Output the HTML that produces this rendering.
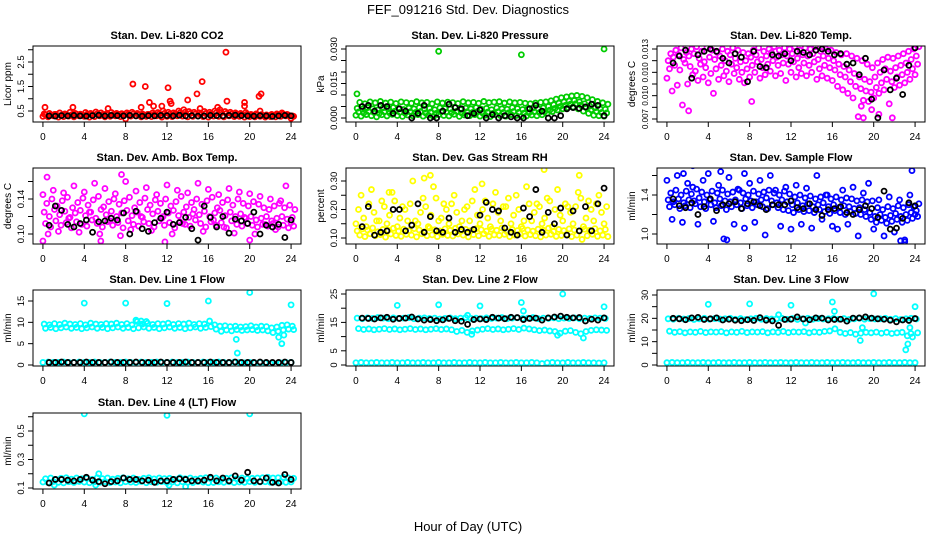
<!DOCTYPE html>
<html><head><meta charset="utf-8"><style>
body{margin:0;background:#fff}
svg{display:block;font-family:"Liberation Sans",Arial,sans-serif}
</style></head><body>
<svg id="chart" width="936" height="540" viewBox="0 0 936 540" xmlns="http://www.w3.org/2000/svg">
<rect x="0" y="0" width="936" height="540" fill="#fff"/>
<text x="468" y="14" text-anchor="middle" font-size="13">FEF_091216  Std. Dev. Diagnostics</text>
<text x="468" y="531" text-anchor="middle" font-size="13">Hour of Day (UTC)</text>
</svg>
<script>
const xTicks=[0,4,8,12,16,20,24];
// CO2
const co2A=[0.28,0.26,0.3,0.25,0.27,0.29,0.26,0.3,0.28,0.25,0.27,0.3,0.26,0.28,0.3,0.27,0.18,0.29,0.3,0.26,0.28,0.27,0.3,0.25,0.28,0.27,0.3,0.29,0.26,0.28,0.3,0.27,0.25,0.29,0.28,0.26,0.3,0.27,0.28,0.25,0.27,0.26,0.28,0.25,0.27,0.26,0.28,0.3,0.2];
const co2B=[0.38,0.4,0.36,0.42,0.38,0.45,0.4,0.37,0.44,0.4,0.46,0.42,0.38,0.44,0.4,0.39,0.42,0.45,0.4,0.38,0.36,0.42,0.44,0.5,0.45,0.42,0.5,0.55,0.48,0.45,0.42,0.48,0.45,0.5,0.55,0.48,0.45,0.42,0.4,0.44,0.36,0.38,0.35,0.34,0.36,0.38,0.42,0.36,0.3];
const co2C=[0.34,0.33,0.36,0.32,0.35,0.34,0.37,0.33,0.36,0.35,0.38,0.34,0.36,0.35,0.37,0.33,0.36,0.38,0.35,0.34,0.36,0.35,0.38,0.4,0.37,0.36,0.42,0.45,0.4,0.38,0.36,0.4,0.38,0.42,0.44,0.4,0.38,0.36,0.35,0.37,0.33,0.34,0.32,0.31,0.33,0.35,0.37,0.33,0.28];
const co2OutX=[8.7,9.9,12.1,15.4,14.9,14.0,17.7,17.8,19.5,19.5,20.9,21.1,10.3,12.4,12.3,0.2,2.9,6.3,16.9,9.5,10.7,11.5,15.2,21.0];
const co2OutY=[1.6,1.5,1.45,1.7,1.2,0.95,2.9,0.9,0.85,0.7,1.1,1.2,0.85,0.8,0.9,0.65,0.65,0.6,0.65,0.65,0.7,0.7,0.6,0.5];
const co2Blk=[0.3,0.29,0.31,0.3,0.32,0.3,0.29,0.31,0.33,0.3,0.32,0.31,0.3,0.32,0.3,0.29,0.31,0.3,0.32,0.31,0.3,0.33,0.3,0.31,0.29,0.3,0.32,0.31,0.3,0.32,0.33,0.31,0.3,0.29,0.31,0.3,0.28,0.3,0.32,0.3];
// Pressure
const prA=[0.0068,0.0062,0.007,0.0066,0.0072,0.0065,0.0069,0.0063,0.007,0.0067,0.0064,0.0071,0.0066,0.0068,0.0062,0.007,0.0065,0.0069,0.0067,0.0063,0.0071,0.0066,0.0068,0.0064,0.0072,0.0067,0.0069,0.0071,0.0065,0.007,0.0066,0.0068,0.0064,0.0062,0.0065,0.0068,0.007,0.0075,0.0082,0.0088,0.0092,0.0096,0.0098,0.0094,0.0088,0.008,0.0072,0.0066,0.006];
const prB=[0.0042,0.0038,0.0045,0.004,0.0035,0.0044,0.0039,0.0046,0.0041,0.0037,0.0043,0.004,0.0045,0.0038,0.0042,0.0036,0.0044,0.0041,0.0039,0.0046,0.0037,0.0043,0.004,0.0045,0.0038,0.0042,0.0036,0.0044,0.004,0.0038,0.0045,0.0041,0.0037,0.0039,0.0043,0.004,0.0044,0.005,0.0058,0.0065,0.007,0.0074,0.0076,0.007,0.0062,0.0052,0.0044,0.004,0.0038];
const prC=[0.0012,0.0008,0.0015,0.001,0.0005,0.0014,0.0009,0.0016,0.0011,0.0007,0.0013,0.001,0.0015,0.0008,0.0012,0.0006,0.0014,0.0011,0.0009,0.0016,0.0007,0.0013,0.001,0.0015,0.0008,0.0012,0.0006,0.0014,0.001,0.0008,0.0015,0.0011,0.0007,0.0009,0.0013,0.001,0.0014,0.002,0.0028,0.0035,0.004,0.0045,0.0048,0.004,0.003,0.002,0.0012,0.001,0.0008];
const prD=[0.0026,0.0022,0.0028,0.0024,0.002,0.0027,0.0023,0.0029,0.0025,0.0021,0.0027,0.0024,0.0028,0.0022,0.0026,0.002,0.0027,0.0025,0.0023,0.0029,0.0021,0.0027,0.0024,0.0028,0.0022,0.0026,0.002,0.0027,0.0024,0.0022,0.0028,0.0025,0.0021,0.0023,0.0027,0.0024,0.0027,0.0034,0.0042,0.005,0.0055,0.006,0.0062,0.0056,0.0046,0.0036,0.0028,0.0024,0.0022];
const prOutX=[0.1,8,16,24];
const prOutY=[0.0105,0.029,0.0275,0.030];
const prBlk=[0.005,0.0055,0.003,0.0055,0.005,0.002,0.004,0.003,0,0.002,0.0055,0,0,0.003,0.006,0.0045,0.004,0.001,0.002,0.0035,0,0.0015,0,0.001,0.0005,0,0,0.004,0.0055,0.003,0,0,0.001,0.004,0.0045,0.0042,0.0048,0.006,0.0055,0.001];
// Li-820 temp
const ltA=[0.0126,0.0129,0.0131,0.0127,0.013,0.0132,0.0128,0.0131,0.0129,0.0127,0.013,0.0128,0.0131,0.0129,0.0127,0.0126,0.0129,0.0131,0.0128,0.013,0.0132,0.0129,0.0131,0.013,0.0132,0.0129,0.0131,0.013,0.0132,0.0128,0.013,0.0129,0.0127,0.0125,0.0126,0.0124,0.0122,0.012,0.0117,0.0114,0.0118,0.0121,0.0123,0.0122,0.0124,0.0126,0.0128,0.013,0.0132];
const ltB=[0.012,0.0123,0.0125,0.0121,0.0124,0.0126,0.0122,0.0119,0.0123,0.0121,0.0124,0.012,0.0125,0.0122,0.0119,0.012,0.0123,0.0125,0.0121,0.0124,0.0127,0.0123,0.0125,0.0124,0.0126,0.0122,0.0125,0.0124,0.0126,0.0121,0.0124,0.0122,0.012,0.0117,0.0115,0.0112,0.0109,0.0106,0.0104,0.0102,0.0106,0.011,0.0113,0.0111,0.0114,0.0116,0.0118,0.0121,0.0124];
const ltC=[0.0113,0.0116,0.0112,0.0118,0.0115,0.0111,0.0117,0.0114,0.0109,0.0113,0.0116,0.0111,0.0117,0.0114,0.011,0.0113,0.0116,0.0119,0.0114,0.0117,0.012,0.0116,0.0118,0.0117,0.0119,0.0114,0.0118,0.0116,0.0119,0.0113,0.0116,0.0114,0.0112,0.0108,0.0106,0.0102,0.0098,0.0096,0.0094,0.0093,0.0097,0.0101,0.0104,0.0102,0.0106,0.0108,0.011,0.0113,0.0117];
const ltD=[0.0105,0.0094,0.0099,0.0082,0.01,0.0108,0.0103,0.0106,0.0101,0.0092,0.0104,0.0107,0.0102,0.0109,0.0104,0.0101,0.0106,0.011,0.0105,0.0108,0.0111,0.0107,0.0109,0.0103,0.011,0.0106,0.0109,0.0107,0.011,0.0104,0.0107,0.0105,0.0103,0.0098,0.0095,0.0092,0.0088,0.0072,0.0086,0.0085,0.0088,0.0092,0.0095,0.0083,0.0097,0.0099,0.0101,0.0104,0.0108];
const ltOutX=[2.1,19,21.8,20.5,19.8,18.8,8.2];
const ltOutY=[0.0077,0.0071,0.0071,0.0074,0.0078,0.0081,0.0085];
const ltBlk=[0.0118,0.0124,0.0129,0.0105,0.0125,0.0128,0.013,0.0128,0.0122,0.0118,0.0126,0.0123,0.0102,0.0128,0.0115,0.0114,0.0125,0.0124,0.0126,0.012,0.0128,0.0127,0.0125,0.0129,0.013,0.0128,0.0125,0.0126,0.0117,0.0118,0.0108,0.0122,0.0087,0.0071,0.0112,0.0095,0.0105,0.0091,0.0116,0.0131];
// Amb box temp
const abA=[0.135,0.14,0.132,0.138,0.142,0.13,0.136,0.141,0.133,0.139,0.143,0.131,0.137,0.14,0.134,0.138,0.142,0.13,0.136,0.141,0.133,0.139,0.135,0.14,0.132,0.137,0.143,0.131,0.136,0.14,0.134,0.138,0.142,0.13,0.136,0.139,0.133,0.14,0.135,0.132,0.137,0.134,0.13,0.128,0.132,0.135,0.13,0.133,0.128];
const abB=[0.125,0.12,0.128,0.122,0.126,0.119,0.124,0.127,0.121,0.125,0.118,0.128,0.122,0.126,0.12,0.124,0.127,0.121,0.125,0.119,0.128,0.123,0.126,0.12,0.124,0.127,0.121,0.125,0.119,0.128,0.122,0.126,0.12,0.124,0.127,0.121,0.125,0.12,0.123,0.118,0.12,0.116,0.118,0.12,0.115,0.118,0.12,0.117,0.119];
const abC=[0.112,0.108,0.115,0.11,0.113,0.107,0.114,0.111,0.109,0.116,0.112,0.108,0.114,0.11,0.113,0.107,0.115,0.111,0.109,0.114,0.112,0.108,0.115,0.11,0.113,0.107,0.114,0.111,0.109,0.116,0.112,0.108,0.114,0.11,0.113,0.107,0.115,0.111,0.109,0.112,0.11,0.108,0.111,0.109,0.112,0.108,0.11,0.107,0.109];
const abD=[0.145,0.1,0.15,0.103,0.147,0.118,0.155,0.102,0.148,0.125,0.158,0.1,0.152,0.115,0.146,0.098,0.16,0.105,0.149,0.12,0.153,0.104,0.145,0.118,0.156,0.1,0.15,0.112,0.147,0.123,0.158,0.103,0.151,0.116,0.145,0.108,0.152,0.101,0.148,0.119,0.146,0.1,0.143,0.111,0.14,0.105,0.138,0.155,0.113];
const abOutX=[0.4,7.6,0,11.8,20,5.6];
const abOutY=[0.165,0.168,0.092,0.091,0.093,0.092];
const abBlk=[0.11,0.132,0.127,0.111,0.108,0.112,0.116,0.102,0.114,0.115,0.118,0.116,0.124,0.1,0.126,0.106,0.103,0.113,0.118,0.125,0.111,0.113,0.119,0.106,0.093,0.132,0.119,0.108,0.12,0.101,0.117,0.115,0.112,0.125,0.1,0.11,0.108,0.111,0.096,0.116];
// RH
const rhA=[0.11,0.105,0.115,0.108,0.112,0.103,0.114,0.109,0.106,0.113,0.11,0.104,0.115,0.108,0.111,0.105,0.113,0.109,0.107,0.114,0.11,0.104,0.112,0.108,0.115,0.106,0.111,0.109,0.113,0.105,0.11,0.114,0.107,0.112,0.108,0.104,0.11,0.113,0.106,0.109,0.112,0.105,0.11,0.095,0.108,0.113,0.106,0.11,0.105];
const rhB=[0.125,0.132,0.128,0.135,0.122,0.13,0.127,0.134,0.124,0.131,0.126,0.133,0.128,0.122,0.135,0.129,0.125,0.132,0.127,0.134,0.123,0.13,0.126,0.133,0.129,0.124,0.131,0.127,0.135,0.122,0.13,0.126,0.133,0.128,0.124,0.131,0.127,0.134,0.123,0.13,0.126,0.132,0.128,0.124,0.131,0.127,0.133,0.125,0.13];
const rhC=[0.2,0.17,0.22,0.19,0.16,0.21,0.18,0.23,0.17,0.2,0.22,0.16,0.19,0.21,0.18,0.24,0.17,0.2,0.22,0.19,0.16,0.21,0.23,0.18,0.2,0.17,0.22,0.19,0.21,0.24,0.18,0.2,0.16,0.22,0.19,0.21,0.17,0.23,0.2,0.18,0.22,0.19,0.21,0.24,0.17,0.2,0.22,0.19,0.21];
const rhD=[0.15,0.25,0.14,0.27,0.16,0.23,0.15,0.26,0.14,0.21,0.16,0.3,0.15,0.24,0.14,0.28,0.16,0.22,0.15,0.25,0.14,0.2,0.16,0.27,0.15,0.23,0.14,0.26,0.16,0.21,0.15,0.25,0.14,0.28,0.16,0.22,0.15,0.24,0.14,0.27,0.16,0.21,0.15,0.26,0.14,0.23,0.16,0.25,0.15];
const rhOutX=[6.6,7.2,18.2,21.6,12.2,3.2];
const rhOutY=[0.31,0.32,0.34,0.32,0.29,0.26];
const rhBlk=[0.14,0.21,0.11,0.12,0.125,0.2,0.2,0.125,0.145,0.22,0.12,0.175,0.125,0.12,0.17,0.12,0.13,0.12,0.13,0.18,0.225,0.2,0.195,0.135,0.12,0.11,0.205,0.175,0.27,0.12,0.19,0.15,0.205,0.11,0.195,0.125,0.21,0.125,0.22,0.275];
// Sample flow
const sfA=[1.42,1.45,1.4,1.44,1.41,1.46,1.43,1.4,1.44,1.42,1.45,1.41,1.43,1.46,1.42,1.4,1.44,1.41,1.43,1.45,1.42,1.4,1.44,1.41,1.38,1.4,1.37,1.39,1.36,1.38,1.4,1.36,1.38,1.35,1.37,1.36,1.34,1.35,1.33,1.34,1.27,1.25,1.28,1.26,1.29,1.27,1.3,1.28,1.31];
const sfB=[1.35,1.33,1.36,1.32,1.35,1.34,1.37,1.33,1.35,1.32,1.36,1.34,1.33,1.35,1.32,1.36,1.34,1.33,1.35,1.37,1.34,1.32,1.35,1.33,1.3,1.32,1.29,1.31,1.28,1.3,1.32,1.28,1.3,1.27,1.29,1.28,1.26,1.27,1.25,1.22,1.18,1.2,1.17,1.19,1.21,1.18,1.2,1.22,1.24];
const sfC=[1.28,1.3,1.26,1.29,1.27,1.31,1.28,1.26,1.3,1.27,1.29,1.25,1.28,1.3,1.26,1.29,1.27,1.3,1.28,1.26,1.3,1.27,1.25,1.24,1.22,1.25,1.23,1.24,1.22,1.25,1.23,1.21,1.24,1.22,1.2,1.23,1.21,1.2,1.18,1.15,1.12,1.14,1.11,1.13,1.15,1.12,1.14,1.16,1.18];
const sfD=[1.55,1.15,1.6,1.12,1.52,1.48,1.1,1.55,1.62,1.13,1.5,0.95,1.58,1.1,1.45,1.06,1.52,1.12,1.55,0.99,1.6,1.45,1.08,1.48,1.05,1.5,1.1,1.47,1.06,1.6,1.15,1.4,1.08,1.05,1.45,1.1,1.48,0.98,1.42,1.52,1.05,1.35,0.98,1.38,1.02,1.35,0.94,1.4,1.2];
const sfOutX=[2.5,5.2,7.5,23.7,1.6,5.8,22.6,23];
const sfOutY=[1.7,1.64,1.62,1.65,1.62,0.94,0.93,0.92];
const sfBlk=[1.36,1.29,1.27,1.32,1.2,1.28,1.36,1.24,1.3,1.31,1.33,1.26,1.31,1.33,1.29,1.25,1.3,1.3,1.3,1.34,1.27,1.26,1.31,1.25,1.19,1.25,1.26,1.28,1.22,1.2,1.25,1.29,1.26,1.17,1.44,1.05,1.06,1.16,1.32,1.29];
// Line 1
const l1A=[9.6,9.4,9.7,9.5,9.8,9.6,9.5,9.7,9.4,9.8,9.6,9.5,9.7,9.6,9.8,9.5,9.7,9.4,10.2,9.6,9.8,9.5,9.7,9.6,9.8,9.5,9.7,9.6,9.8,9.5,9.7,9.6,10.3,9.4,9.1,9.2,9.0,9.1,8.9,9.0,9.2,8.9,9.1,9.0,8.7,8.9,9.3,9.4,9.1];
const l1B=[8.6,8.8,8.5,8.7,8.9,8.6,8.8,8.5,8.7,8.9,8.6,8.8,8.5,8.7,8.9,8.6,8.8,8.5,8.7,8.9,8.6,8.8,8.5,8.7,8.9,8.6,8.8,8.5,8.7,8.9,8.6,8.8,9.0,8.4,7.9,8.2,8.0,8.3,8.1,8.2,8.3,8.1,8.2,8.0,7.6,7.9,8.2,8.4,8.3];
const l1C=[0.6,0.7,0.6,0.6,0.7,0.6,0.6,0.7,0.6,0.6,0.7,0.6,0.6,0.7,0.6,0.6,0.7,0.6,0.6,0.7,0.6,0.6,0.7,0.6,0.6,0.7,0.6,0.6,0.7,0.6,0.6,0.7,0.6,0.6,0.7,0.6,0.5,0.7,0.6,0.5,0.6,0.5,0.6,0.5,0.3,0.2,0.5,0.6,0.6];
const l1OutX=[4,8,12,16,20,24,18.7,18.8,22.8,23.1,23.3,9,9.5,10];
const l1OutY=[14.5,14.5,14.4,15,17,14.1,6,2.8,6.5,5,7,10.5,10.3,10.2];
const l1Blk=[0.6,0.6,0.7,0.6,0.6,0.6,0.7,0.6,0.6,0.6,0.7,0.6,0.6,0.6,0.7,0.6,0.6,0.6,0.7,0.6,0.6,0.6,0.7,0.6,0.6,0.6,0.7,0.6,0.6,0.6,0.7,0.6,0.6,0.6,0.7,0.6,0.6,0.6,0.7,0.6];
// Line 2
const l2A=[16.5,16.3,16.6,16.4,16.7,16.5,16.3,16.6,16.4,16.5,16.7,16.3,16.5,16.6,16.4,16.5,16.2,16.4,16.6,16.3,16.5,16.7,16.4,16.5,16.3,16.6,16.4,16.5,16.7,16.3,16.5,16.6,16.4,16.5,16.7,16.3,16.5,16.4,16.6,16.3,16.5,16.4,16.6,16.3,16.5,16.4,16.6,16.5,16.4];
const l2B=[12.8,12.5,12.7,12.4,12.6,12.8,12.5,12.7,12.4,12.6,12.8,12.5,12.7,12.4,12.6,12.8,12.5,12.7,12.4,11.8,12.2,11.5,12.0,12.3,12.6,12.8,12.5,12.7,12.4,12.6,12.8,12.5,13.0,12.7,12.4,12.1,12.3,12.0,11.8,11.2,11.9,12.1,11.5,11.0,11.8,12.2,12.4,12.3,12.2];
const l2C=[0.8,0.9,0.8,0.8,0.9,0.8,0.8,0.9,0.8,0.8,0.9,0.8,0.8,0.9,0.8,0.8,0.9,0.8,0.8,0.9,0.8,0.8,0.9,0.8,0.8,0.9,0.8,0.8,0.9,0.8,0.8,0.9,0.8,0.8,0.9,0.8,0.5,0.8,0.9,0.8,0.8,0.9,0.8,0.8,0.9,0.8,0.8,0.7,0.8];
const l2OutX=[4,8,12,16,20,24,16.2,22,19.5,11.2,10.8];
const l2OutY=[21,21.2,20.8,22,25,20.5,19,9.5,10.5,10.8,17.5];
const l2Blk=[16.5,16.4,16.2,16.6,16.8,16.1,16.4,16.5,16.9,16.2,15.8,16,15.6,15.9,16.4,15.6,15.4,14.3,16,16.2,16,16.8,16.5,16.3,16.8,16.7,16,16.4,16.5,15.8,16.6,16.9,17.2,16.8,16.6,16.7,15.5,16.1,15.8,16.6];
// Line 3
const l3A=[19.8,19.6,20.0,19.7,19.9,19.5,19.8,20.0,19.6,19.9,19.7,19.8,20.0,19.6,19.9,19.5,19.8,20.0,19.6,19.9,19.7,19.8,20.0,19.6,19.9,19.5,19.8,20.0,19.6,19.9,19.7,19.8,20.0,19.6,19.9,19.5,19.8,20.0,19.6,19.9,19.7,19.8,20.0,19.6,19.9,19.5,19.8,20.0,19.7];
const l3B=[14.5,14.0,14.3,13.8,14.2,14.0,14.4,13.9,14.2,14.1,14.3,13.8,14.2,14.0,14.4,13.9,14.2,14.1,14.3,13.8,14.2,14.0,14.4,13.9,14.2,14.1,14.3,13.8,14.2,14.0,14.4,14.6,15.5,14.0,13.5,13.9,13.2,13.6,14.0,13.8,14.1,13.6,14.0,13.5,13.8,14.0,12.5,12.0,13.8];
const l3C=[1.0,1.1,1.0,1.0,1.1,1.0,1.0,1.1,1.0,1.0,1.1,1.0,1.0,1.1,1.0,1.0,1.1,1.0,1.0,1.1,1.0,1.0,1.1,1.0,1.0,1.1,1.0,1.0,1.1,1.0,1.0,1.1,1.0,1.0,1.1,1.0,1.0,1.1,1.0,1.0,1.1,1.0,1.0,1.1,1.0,1.0,1.1,1.0,1.0];
const l3OutX=[4,8,12,16,20,24,16.2,18.7,18.9,23.1,23.3,23.5,23.6,10.8,13.4];
const l3OutY=[26,26.2,25.6,27,30.5,25,23,10.5,16,6.5,9,16,13.5,21.5,18];
const l3Blk=[20,19.8,19.4,20.2,20.4,19.5,19.8,20.2,19.3,19.6,19.2,19.0,19.4,19.1,20.3,19.2,18.9,17,19.5,19.6,20.6,19.7,19.4,20.2,20.1,19.3,19.5,19.6,18.8,20.1,20.2,20.6,20.1,19.8,19.6,19.2,18.5,19.3,19.1,19.9];
// Line 4
const l4A=[0.165,0.17,0.16,0.168,0.172,0.162,0.17,0.165,0.168,0.16,0.172,0.166,0.17,0.162,0.168,0.172,0.165,0.17,0.16,0.168,0.172,0.164,0.17,0.166,0.168,0.16,0.172,0.165,0.17,0.162,0.168,0.172,0.165,0.17,0.16,0.168,0.172,0.164,0.17,0.166,0.168,0.17,0.172,0.175,0.17,0.172,0.175,0.17,0.168];
const l4B=[0.142,0.138,0.145,0.14,0.136,0.144,0.139,0.146,0.141,0.137,0.143,0.14,0.145,0.138,0.142,0.136,0.144,0.141,0.139,0.146,0.137,0.143,0.14,0.145,0.138,0.142,0.136,0.144,0.14,0.138,0.145,0.141,0.137,0.139,0.143,0.14,0.144,0.138,0.142,0.14,0.145,0.14,0.142,0.144,0.14,0.142,0.145,0.14,0.142];
const l4OutX=[4,12,20,5.4,13.8,1.1,5.1,12.2];
const l4OutY=[0.62,0.61,0.62,0.2,0.11,0.12,0.12,0.12];
const l4Blk=[0.135,0.16,0.16,0.155,0.15,0.16,0.175,0.155,0.145,0.13,0.145,0.15,0.17,0.16,0.16,0.15,0.155,0.14,0.15,0.15,0.16,0.165,0.16,0.15,0.15,0.155,0.175,0.15,0.17,0.15,0.185,0.155,0.21,0.15,0.145,0.17,0.14,0.135,0.195,0.16];

const NS="http://www.w3.org/2000/svg";
const svg=document.getElementById('chart');
const panels=[
 {name:'co2',title:'Stan. Dev. Li-820 CO2',yl:'Licor ppm',L:33,T:46,col:'#ff0000',layers:[co2A,co2C,co2B],ox:co2OutX,oy:co2OutY,blk:co2Blk,cal:[0.5,111,2.5,62],ticks:[0.5,1,1.5,2,2.5,3],labs:['0.5','','1.5','','2.5',''],fs:9.5},
 {name:'pressure',title:'Stan. Dev. Li-820 Pressure',yl:'kPa',L:346,T:46,col:'#00cc00',layers:[prC,prD,prB,prA],ox:prOutX,oy:prOutY,blk:prBlk,cal:[0,118,0.03,49],ticks:[0,0.005,0.01,0.015,0.02,0.025,0.03],labs:['0.000','','','0.015','','','0.030'],fs:9.5},
 {name:'li-temp',title:'Stan. Dev. Li-820 Temp.',yl:'degrees C',L:657,T:46,col:'#ff00ff',layers:[ltD,ltC,ltB,ltA],ox:ltOutX,oy:ltOutY,blk:ltBlk,cal:[0.007,119,0.013,49],ticks:[0.007,0.008,0.009,0.01,0.011,0.012,0.013],labs:['0.007','','0.010','','0.010','','0.013'],fs:8},
 {name:'amb-box-temp',title:'Stan. Dev. Amb. Box Temp.',yl:'degrees C',L:33,T:168,col:'#ff00ff',layers:[abD,abC,abB,abA],ox:abOutX,oy:abOutY,blk:abBlk,cal:[0.10,234,0.14,199],ticks:[0.10,0.12,0.14,0.16],labs:['0.10','','0.14',''],fs:9.5},
 {name:'gas-rh',title:'Stan. Dev. Gas Stream RH',yl:'percent',L:346,T:168,col:'#ffff00',layers:[rhD,rhC,rhB,rhA],ox:rhOutX,oy:rhOutY,blk:rhBlk,cal:[0.10,238,0.30,181],ticks:[0.10,0.15,0.20,0.25,0.30],labs:['0.10','','0.20','','0.30'],fs:9.5},
 {name:'sample-flow',title:'Stan. Dev. Sample Flow',yl:'ml/min',L:657,T:168,col:'#0000ff',layers:[sfD,sfC,sfB,sfA],ox:sfOutX,oy:sfOutY,blk:sfBlk,cal:[1.0,234,1.4,195],ticks:[1.0,1.2,1.4,1.6],labs:['1.0','','1.4',''],fs:9.5},
 {name:'line1-flow',title:'Stan. Dev. Line 1 Flow',yl:'ml/min',L:33,T:290,col:'#00ffff',layers:[l1C,l1B,l1A],ox:l1OutX,oy:l1OutY,blk:l1Blk,cal:[0,365,15,301],ticks:[0,5,10,15],labs:['0','5','10','15'],fs:9.5},
 {name:'line2-flow',title:'Stan. Dev. Line 2 Flow',yl:'ml/min',L:346,T:290,col:'#00ffff',layers:[l2C,l2B,l2A],ox:l2OutX,oy:l2OutY,blk:l2Blk,cal:[0,365,25,294],ticks:[0,5,10,15,20,25],labs:['0','5','','15','','25'],fs:9.5},
 {name:'line3-flow',title:'Stan. Dev. Line 3 Flow',yl:'ml/min',L:657,T:290,col:'#00ffff',layers:[l3C,l3B,l3A],ox:l3OutX,oy:l3OutY,blk:l3Blk,cal:[0,365,30,295],ticks:[0,5,10,15,20,25,30],labs:['0','','10','','20','','30'],fs:9.5},
 {name:'line4-flow',title:'Stan. Dev. Line 4 (LT) Flow',yl:'ml/min',L:33,T:413,col:'#00ffff',layers:[l4B,l4A],ox:l4OutX,oy:l4OutY,blk:l4Blk,cal:[0.1,488,0.5,431],ticks:[0.1,0.2,0.3,0.4,0.5,0.6],labs:['0.1','','0.3','','0.5',''],fs:9.5}
];
const W=268,H=76,offs=[0,0.25,0.12,0.37];
function mk(tag,attrs,parent){const e=document.createElementNS(NS,tag);for(const k in attrs)e.setAttribute(k,attrs[k]);parent.appendChild(e);return e;}
panels.forEach(p=>{
 const g=mk('g',{},svg);
 
 
 const xs=v=>p.L+(v+0.96)*W/25.92;
 const ys=v=>p.cal[1]+(v-p.cal[0])*(p.cal[3]-p.cal[1])/(p.cal[2]-p.cal[0]);
 const B=p.T+H;
 const cid='clip-'+p.name;
 const cp=mk('clipPath',{id:cid},g);mk('rect',{x:p.L,y:p.T,width:W,height:H},cp);
 const pts=mk('g',{'clip-path':'url(#'+cid+')',fill:'none','stroke-width':1.8},g);
 
 
 p.layers.forEach((arr,li)=>{arr.forEach((v,i)=>{
  const c=mk('circle',{cx:xs(offs[li%4]+i*0.5),cy:ys(v),r:2.5,stroke:p.col},pts);
  
  
 });});
 p.ox.forEach((x,i)=>{
  const c=mk('circle',{cx:xs(x),cy:ys(p.oy[i]),r:2.5,stroke:p.col},pts);
  
  
 });
 p.blk.forEach((v,i)=>{
  const c=mk('circle',{cx:xs(0.6+i*0.6),cy:ys(v),r:2.5,stroke:'#000'},pts);
  
  
 });
 const box=mk('rect',{x:p.L,y:p.T,width:W,height:H,fill:'none',stroke:'#000','stroke-width':1},g);
 
 
 const t=mk('text',{x:p.L+W/2,y:p.T-7,'text-anchor':'middle','font-size':11,'font-weight':'bold'},g);
 t.textContent=p.title;
 
 
 xTicks.forEach(v=>{
  const x=xs(v);
  const tk=mk('line',{x1:x,x2:x,y1:B,y2:B+5,stroke:'#000'},g);
  
  
  const lb=mk('text',{x:x,y:B+18,'text-anchor':'middle','font-size':10},g);
  lb.textContent=v;
  
  
 });
 p.ticks.forEach((v,i)=>{
  const y=ys(v);
  const tk=mk('line',{x1:p.L-5,x2:p.L,y1:y,y2:y,stroke:'#000'},g);
  
  
  if(p.labs[i]){
   const lb=mk('text',{x:0,y:0,'text-anchor':'middle','font-size':p.fs,transform:'translate('+(p.L-9)+','+y+') rotate(-90)'},g);
   lb.textContent=p.labs[i];
   
   
  }
 });
 const yl=mk('text',{x:0,y:0,'text-anchor':'middle','font-size':10,transform:'translate('+(p.L-22)+','+(p.T+H/2)+') rotate(-90)'},g);
 yl.textContent=p.yl;
 
 
});
</script>
</body></html>
